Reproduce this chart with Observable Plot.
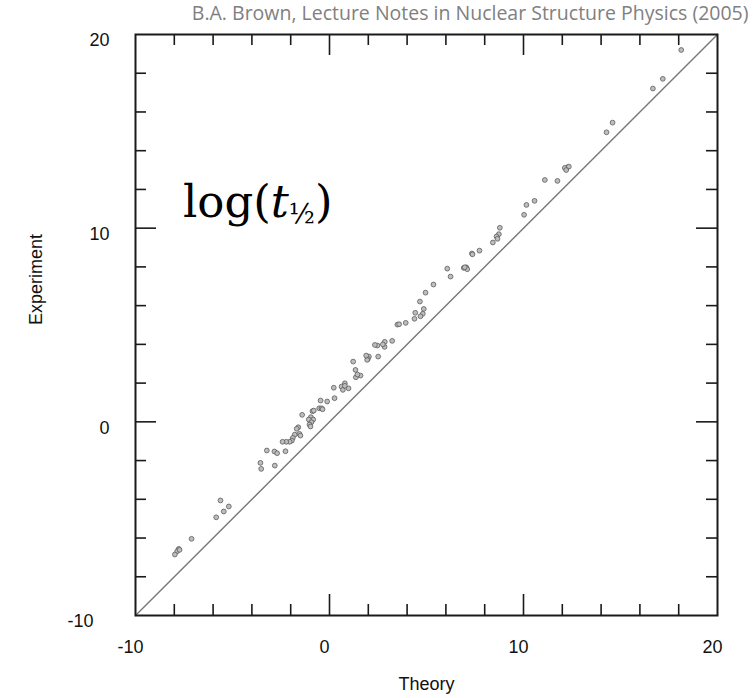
<!DOCTYPE html>
<html>
<head>
<meta charset="utf-8">
<script src="https://cdn.jsdelivr.net/npm/d3@7"></script>
<script src="https://cdn.jsdelivr.net/npm/@observablehq/plot@0.6"></script>
<style>
  body { margin: 0; background: #fff; }
</style>
</head>
<body>
<div id="chart"></div>
<script>
// log10 of beta-decay half-lives: shell-model theory vs. experiment
const theory = [
  18.13, 17.18, 16.67, 14.59, 14.28, 12.25, 12.13, 12.34, 12.2, 11.75,
  11.1, 10.57, 10.15, 10.03, 8.78, 8.73, 8.61, 8.66, 8.42, 7.73,
  7.34, 7.37, 6.07, 6.92, 7.05, 7.1, 6.97, 6.24, 5.36, 4.95,
  4.66, 4.86, 4.81, 4.69, 4.42, 4.38, 3.93, 3.5, 3.59, 3.23,
  2.85, 2.84, 2.75, 2.47, 2.34, 2.51, 2.03, 1.98, 1.94, 1.89,
  1.22, 1.34, 1.6, 1.36, 1.44, 0.26, 0.98, 0.79, 0.62, 0.69,
  0.79, 0.22, -0.12, -0.46, -0.53, -0.41, -0.36, -0.88, -0.81, -1.41,
  -0.96, -0.84, -1.07, -0.93, -1.03, -0.98, -1.61, -1.69, -1.79, -1.89,
  -1.94, -2.05, -2.23, -2.42, -1.55, -1.5, -3.23, -2.84, -2.7, -2.27,
  -2.82, -3.56, -3.52, -5.62, -5.19, -5.45, -5.84, -7.11, -7.77, -7.85,
  -7.97, -7.73
];
const experiment = [
  19.2, 17.71, 17.21, 15.45, 14.95, 13.14, 13.11, 13.18, 13.0, 12.44,
  12.49, 11.41, 11.2, 10.69, 10.02, 9.69, 9.57, 9.45, 9.26, 8.84,
  8.69, 8.65, 7.91, 7.95, 7.98, 7.88, 7.98, 7.5, 7.09, 6.67,
  6.21, 5.83, 5.58, 5.45, 5.63, 5.32, 5.11, 5.02, 5.04, 4.18,
  4.13, 3.87, 4.0, 3.94, 3.97, 3.37, 3.37, 3.25, 3.2, 3.42,
  3.11, 2.68, 2.39, 2.3, 2.44, 1.22, 1.73, 1.99, 1.82, 1.65,
  1.86, 1.76, 1.05, 1.1, 0.7, 0.7, 0.65, 0.55, 0.58, 0.36,
  0.24, 0.12, 0.12, -0.02, -0.14, -0.24, -0.28, -0.36, -0.66, -0.83,
  -0.97, -1.03, -1.03, -1.03, -0.62, -0.71, -1.48, -1.53, -1.62, -1.52,
  -2.26, -2.12, -2.43, -4.06, -4.37, -4.63, -4.93, -6.04, -6.56, -6.68,
  -6.85, -6.61
];

const minorTicks = [-8, -6, -4, -2, 2, 4, 6, 8, 12, 14, 16, 18];
const majorTicks = [0, 10];
const tickLabels = [-10, 0, 10, 20];
const diagonal = [-10, 20];
const xTitle = "Theory";
const yTitle = "Experiment";
const credit = "B.A. Brown, Lecture Notes in Nuclear Structure Physics (2005)";

const W = 756, H = 698;
const mL = 135, mR = 39, mT = 34, mB = 83;
const fw = W - mL - mR, fh = H - mT - mB;
const minorLen = 11, majorLen = 21;
const axisInk = "#1a1a1a";

const points = theory.map((t, i) => ({theory: t, experiment: experiment[i]}));
const line = diagonal.map(v => ({v}));

// inward ticks on all four sides of the frame
function sideTicks(values, len) {
  const s = {stroke: axisInk, strokeWidth: 1.6};
  return [
    Plot.tickX(values, {x: d => d, insetTop: fh - len, ...s}),
    Plot.tickX(values, {x: d => d, insetBottom: fh - len, ...s}),
    Plot.tickY(values, {y: d => d, insetRight: fw - len, ...s}),
    Plot.tickY(values, {y: d => d, insetLeft: fw - len, ...s})
  ];
}

// the bottom-left y label is pushed further left, clear of the x labels
const cornerLabel = d => d === -10;

const plot = Plot.plot({
  width: W, height: H,
  marginLeft: mL, marginRight: mR, marginTop: mT, marginBottom: mB,
  x: {domain: [-10, 20], axis: null},
  y: {domain: [-10, 20], axis: null},
  style: {fontFamily: "'Liberation Sans', Arial, sans-serif", fontSize: "18px", background: "#fff"},
  marks: [
    Plot.line(line, {x: "v", y: "v", stroke: "#777", strokeWidth: 1.4}),
    Plot.dot(points, {x: "theory", y: "experiment", r: 2.4, fill: "#bdbdbd", stroke: "#555", strokeWidth: 0.9, strokeOpacity: 0.85}),
    ...sideTicks(minorTicks, minorLen),
    ...sideTicks(majorTicks, majorLen),
    Plot.frame({stroke: axisInk, strokeWidth: 2}),
    Plot.text(tickLabels, {x: d => d, text: d => String(d), frameAnchor: "bottom", lineAnchor: "middle", dy: 32, dx: -5, fill: "#111", fontSize: 18}),
    Plot.text(tickLabels.filter(d => !cornerLabel(d)), {y: d => d, text: d => String(d), frameAnchor: "left", lineAnchor: "middle", textAnchor: "end", dx: -26, dy: 6, fill: "#111", fontSize: 18}),
    Plot.text(tickLabels.filter(cornerLabel), {y: d => d, text: d => String(d), frameAnchor: "left", lineAnchor: "middle", textAnchor: "end", dx: -42, dy: 6, fill: "#111", fontSize: 18}),
    Plot.text([xTitle], {text: d => d, frameAnchor: "bottom", lineAnchor: "middle", dy: 69, fill: "#111", fontSize: 18}),
    Plot.text([yTitle], {text: d => d, frameAnchor: "left", lineAnchor: "middle", rotate: -90, dx: -99, fill: "#111", fontSize: 18}),
    Plot.text([credit], {text: d => d, frameAnchor: "top-right", lineAnchor: "middle", textAnchor: "end", dx: 31, dy: -21, fill: "#808080", fontSize: 19.5, fontFamily: "'Open Sans', sans-serif"})
  ]
});

// log(t½) annotation inside the plot area
const xs = plot.scale("x"), ys = plot.scale("y");
const label = d3.select(plot).append("text")
  .attr("x", xs.apply(-7.53))
  .attr("y", ys.apply(10.55))
  .attr("text-anchor", "start")
  .attr("font-family", "'DejaVu Serif', serif")
  .attr("font-size", 45)
  .attr("fill", "#000");
label.append("tspan").text("log(");
label.append("tspan").attr("font-style", "italic").text("t");
label.append("tspan").attr("font-size", 27).attr("dy", 6).text("½");
label.append("tspan").attr("font-size", 45).attr("dy", -6).text(")");

document.getElementById("chart").append(plot);
</script>
</body>
</html>
